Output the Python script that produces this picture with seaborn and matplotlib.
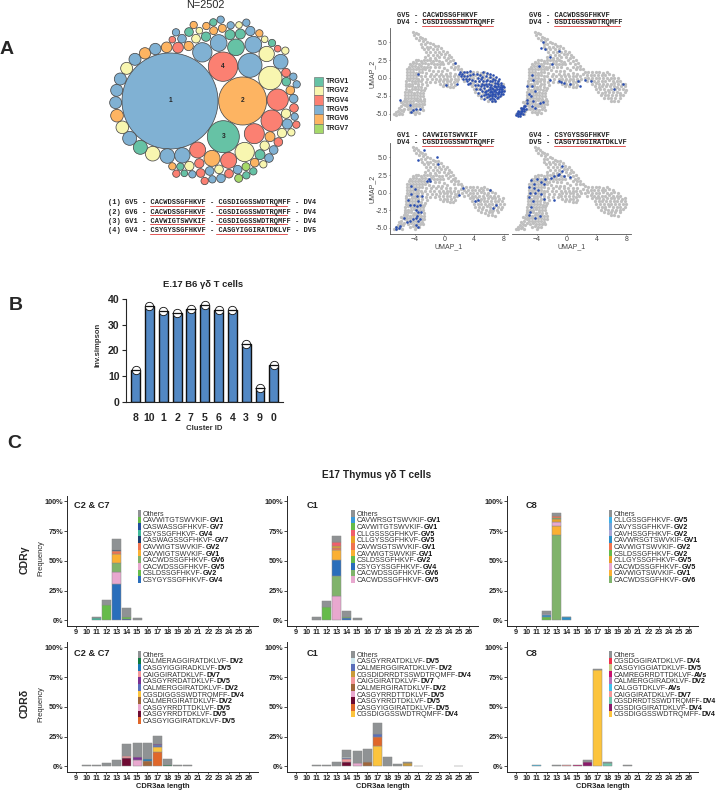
import pandas as pd
import matplotlib
matplotlib.use('Agg')
import matplotlib.pyplot as plt
from matplotlib.lines import Line2D
from matplotlib.patches import Circle, Rectangle
import seaborn as sns

sns.set_style('ticks')
plt.rcParams['font.family'] = ['Liberation Sans', 'DejaVu Sans']

# ---- panel A: clone bubbles
bubble_x = [510, 728, 670, 669, 750, 811, 833, 815, 763, 734, 686, 636, 593, 547, 502, 458, 421, 389, 367, 351,
            347, 350, 361, 380, 405, 435, 466, 500, 534, 566, 607, 656, 708, 760, 800, 842, 858, 859, 871, 880,
            890, 881, 882, 858, 884, 862, 889, 874, 846, 810, 835, 794, 821, 780, 807, 790, 764, 738, 760, 713,
            739, 716, 687, 657, 629, 663, 637, 614, 602, 598, 568, 541, 517, 553, 577, 529, 528, 517, 546, 567,
            581, 598, 618, 588, 619, 641, 640, 662, 667, 692, 690, 721, 717, 739, 751, 778, 794, 816, 833, 856]
bubble_y = [303, 303, 410, 200, 196, 234, 299, 362, 401, 456, 481, 475, 450, 466, 468, 461, 442, 415, 382, 347,
            308, 271, 237, 205, 178, 160, 147, 142, 143, 138, 157, 129, 142, 134, 162, 185, 218, 245, 271, 230,
            253, 296, 324, 341, 350, 372, 374, 397, 399, 410, 426, 437, 450, 464, 474, 493, 488, 500, 514, 509,
            526, 535, 521, 508, 513, 535, 538, 543, 519, 490, 498, 500, 499, 520, 523, 521, 97, 119, 116, 96,
            75, 92, 110, 116, 78, 92, 67, 59, 85, 76, 104, 102, 75, 68, 93, 100, 118, 129, 146, 152]
bubble_r = [144, 72, 48, 44, 36, 35, 32, 32, 30, 29, 24, 24, 24, 23, 22, 22, 21, 21, 19, 19,
            18, 18, 18, 18, 18, 17, 17, 16, 16, 14, 29, 25, 25, 25, 23, 22, 13, 13, 13, 11,
            11, 13, 13, 14, 11, 15, 11, 11, 14, 15, 13, 14, 13, 15, 13, 11, 13, 12, 11, 13,
            11, 12, 13, 13, 13, 13, 11, 11, 13, 14, 14, 11, 11, 10, 11, 11, 11, 10, 13, 13,
            11, 10, 14, 13, 11, 12, 11, 11, 12, 11, 15, 15, 10, 11, 14, 11, 10, 11, 10, 11]
bubble_gene = ['V5', 'V6', 'V1', 'V4', 'V5', 'V2', 'V4', 'V4', 'V4', 'V2', 'V4', 'V6', 'V4', 'V5', 'V5', 'V2', 'V1', 'V5', 'V2', 'V6',
               'V5', 'V5', 'V5', 'V2', 'V5', 'V6', 'V5', 'V6', 'V4', 'V6', 'V5', 'V5', 'V1', 'V5', 'V2', 'V5', 'V4', 'V1', 'V6', 'V5',
               'V5', 'V5', 'V4', 'V2', 'V5', 'V5', 'V4', 'V2', 'V2', 'V6', 'V4', 'V2', 'V5', 'V1', 'V5', 'V2', 'V6', 'V7', 'V1', 'V5',
               'V1', 'V7', 'V4', 'V2', 'V5', 'V5', 'V5', 'V4', 'V4', 'V4', 'V2', 'V1', 'V6', 'V1', 'V5', 'V4', 'V5', 'V4', 'V5', 'V1',
               'V6', 'V2', 'V1', 'V2', 'V6', 'V6', 'V1', 'V5', 'V6', 'V5', 'V1', 'V1', 'V2', 'V5', 'V5', 'V6', 'V2', 'V1', 'V4', 'V2']
gene_names = ['V1', 'V2', 'V4', 'V5', 'V6', 'V7']
gene_colors = ['#66c2a5', '#f8f6b0', '#fb8072', '#80b1d3', '#fdb462', '#a6d96a']

clone_rows = [('(1)', 'GV5', 'CACWDSSGFHKVF', 'CGSDIGGSSWDTRQMFF', 'DV4'),
              ('(2)', 'GV6', 'CACWDSSGFHKVF', 'CGSDIGGSSWDTRQMFF', 'DV4'),
              ('(3)', 'GV1', 'CAVWIGTSWVKIF', 'CGSDIGGSSWDTRQMFF', 'DV4'),
              ('(4)', 'GV4', 'CSYGYSSGFHKVF', 'CASGYIGGIRATDKLVF', 'DV5')]

# ---- panel A: UMAP cells
umap_gray = [(-4.2, 6.5), (-3.9, 6.3), (-4.1, 6.0), (-3.6, 6.1), (-3.3, 5.8), (-3.8, 5.6), (-3.0, 5.6), (-2.6, 5.5), (-3.4, 5.3), (-2.9, 5.2),
             (-2.3, 5.1), (-3.1, 4.8), (-2.6, 4.8), (-2.0, 4.9), (-1.6, 4.7), (-3.0, 4.4), (-2.4, 4.4), (-1.9, 4.4), (-1.3, 4.5), (-0.9, 4.5),
             (-2.8, 4.0), (-2.2, 4.0), (-1.6, 4.0), (-1.0, 4.1), (-0.5, 4.2), (-2.5, 3.6), (-1.9, 3.6), (-1.3, 3.6), (-0.7, 3.7), (-0.2, 3.8),
             (0.3, 3.6), (-2.2, 3.2), (-1.6, 3.2), (-1.0, 3.2), (-0.4, 3.3), (0.1, 3.3), (0.6, 3.2), (-2.6, 2.9), (-1.9, 2.8), (-1.3, 2.8),
             (-0.7, 2.9), (-0.1, 2.9), (0.5, 2.8), (0.9, 2.9), (0.2, 2.5), (0.8, 2.4), (1.2, 2.5), (0.5, 2.1), (1.1, 2.0), (1.5, 2.1),
             (0.9, 1.6), (1.4, 1.6), (1.8, 1.7), (1.3, 1.2), (1.8, 1.2), (2.2, 1.3), (-4.3, 2.3), (-3.9, 2.45), (-3.5, 2.5), (-3.1, 2.4),
             (-2.7, 2.5), (-2.3, 2.45), (-1.9, 2.5), (-1.5, 2.4), (-1.1, 2.45), (-0.7, 2.4), (-0.3, 2.3), (-4.6, 2.0), (-4.2, 2.05), (-3.8, 2.1),
             (-3.4, 2.0), (-3.0, 2.1), (-2.6, 2.05), (-2.2, 2.0), (-1.8, 2.1), (-1.4, 2.0), (-1.0, 2.0), (-0.6, 1.9), (-0.2, 1.9), (-4.8, 1.6),
             (-4.4, 1.65), (-4.0, 1.7), (-3.6, 1.6), (-3.2, 1.7), (-2.8, 1.6), (-2.4, 1.55), (-1.9, 1.6), (-1.3, 1.5), (-0.7, 1.5), (0.0, 1.4),
             (-5.0, 1.2), (-4.6, 1.25), (-4.2, 1.2), (-3.8, 1.3), (-3.4, 1.2), (-3.0, 1.25), (-2.6, 1.2), (-2.1, 1.1), (-1.5, 1.0), (-0.9, 1.0),
             (-0.3, 1.0), (0.4, 1.1), (-5.0, 0.8), (-4.6, 0.85), (-4.2, 0.8), (-3.8, 0.75), (-3.4, 0.8), (-3.0, 0.85), (-2.5, 0.7), (-1.8, 0.6),
             (-1.1, 0.6), (-0.4, 0.6), (0.2, 0.6), (0.8, 0.7), (1.4, 0.6), (-5.1, 0.4), (-4.7, 0.35), (-4.3, 0.4), (-3.9, 0.45), (-3.5, 0.4),
             (-3.1, 0.3), (-2.6, 0.3), (-2.0, 0.2), (-1.4, 0.2), (-0.7, 0.2), (-0.2, 0.25), (0.3, 0.3), (0.8, 0.3), (1.3, 0.2), (1.8, 0.3),
             (-5.1, 0.0), (-4.7, 0.05), (-4.3, 0.0), (-3.9, -0.05), (-3.5, -0.1), (-3.0, -0.1), (-2.4, -0.2), (-1.7, -0.2), (-1.1, -0.2), (-0.6, -0.1),
             (-0.1, -0.1), (0.4, -0.1), (0.9, -0.1), (1.4, -0.2), (1.9, -0.1), (-5.2, -0.4), (-4.8, -0.35), (-4.4, -0.4), (-4.0, -0.45), (-3.6, -0.5),
             (-3.1, -0.5), (-2.5, -0.6), (-1.9, -0.6), (-1.2, -0.6), (-0.7, -0.5), (-0.2, -0.5), (0.3, -0.5), (0.8, -0.5), (1.3, -0.6), (1.7, -0.5),
             (-5.2, -0.8), (-4.8, -0.85), (-4.4, -0.8), (-4.0, -0.75), (-3.5, -0.9), (-3.0, -0.9), (-2.4, -1.0), (-0.6, -0.9), (-0.1, -0.9), (0.4, -0.9),
             (0.9, -0.9), (1.4, -1.0), (-5.2, -1.2), (-4.8, -1.15), (-4.4, -1.2), (-4.0, -1.25), (-3.6, -1.2), (-3.1, -1.3), (-2.6, -1.4), (-0.2, -1.2),
             (0.3, -1.2), (0.8, -1.3), (1.2, -1.3), (-5.2, -1.6), (-4.8, -1.65), (-4.4, -1.6), (-4.0, -1.55), (-3.6, -1.6), (-3.2, -1.7), (-2.8, -1.7),
             (-5.3, -2.0), (-4.9, -1.95), (-4.5, -2.0), (-4.1, -2.05), (-3.7, -2.0), (-3.3, -2.1), (-2.9, -2.1), (-5.3, -2.4), (-4.9, -2.45), (-4.5, -2.4),
             (-4.1, -2.35), (-3.7, -2.4), (-3.3, -2.5), (-2.9, -2.5), (-5.3, -2.8), (-4.9, -2.75), (-4.5, -2.8), (-4.1, -2.85), (-3.7, -2.8), (-3.3, -2.9),
             (-2.8, -2.9), (-5.1, -3.2), (-4.7, -3.25), (-4.3, -3.2), (-3.9, -3.15), (-3.5, -3.2), (-3.1, -3.3), (-2.7, -3.3), (-5.0, -3.6), (-4.6, -3.55),
             (-4.2, -3.6), (-3.8, -3.65), (-3.4, -3.6), (-3.0, -3.7), (-2.7, -3.7), (-5.0, -4.0), (-4.6, -4.05), (-4.2, -4.0), (-3.8, -3.95), (-3.4, -4.0),
             (-3.0, -4.1), (-4.9, -4.4), (-4.5, -4.35), (-4.1, -4.4), (-3.7, -4.45), (-3.3, -4.4), (-2.9, -4.5), (-4.6, -4.8), (-4.2, -4.75), (-3.8, -4.8),
             (-3.4, -4.9), (-4.0, -5.1), (-6.8, -5.1), (-6.5, -5.2), (-6.2, -5.0), (-6.6, -4.8), (-6.0, -4.9), (-5.7, -5.1), (-6.3, -4.6), (-5.9, -4.5),
             (-6.1, -4.2), (-5.6, -4.6), (-5.8, -4.0), (-5.4, -4.3), (-5.6, -3.6), (-5.3, -3.8), (-5.5, -3.2), (-5.2, -3.4), (-5.9, -3.4), (-5.3, -2.9),
             (2.4, 0.9), (2.9, 0.8), (3.4, 0.85), (3.9, 0.8), (4.4, 0.8), (4.9, 0.7), (5.4, 0.8), (2.2, 0.5), (2.7, 0.4), (3.2, 0.45),
             (3.7, 0.4), (4.2, 0.35), (4.7, 0.4), (5.2, 0.4), (5.7, 0.5), (6.2, 0.4), (2.4, 0.0), (2.9, 0.05), (3.4, 0.0), (3.9, -0.05),
             (4.4, 0.0), (4.9, 0.05), (5.4, 0.0), (5.9, 0.0), (6.4, 0.05), (6.9, 0.0), (2.7, -0.4), (3.2, -0.35), (3.7, -0.4), (4.2, -0.45),
             (4.7, -0.4), (5.2, -0.4), (5.7, -0.35), (6.2, -0.4), (6.7, -0.45), (7.2, -0.4), (3.4, -0.8), (3.9, -0.75), (4.4, -0.8), (4.9, -0.85),
             (5.4, -0.8), (5.9, -0.8), (6.4, -0.75), (6.9, -0.8), (7.4, -0.85), (7.9, -0.8), (3.8, -1.2), (4.3, -1.25), (4.8, -1.2), (5.3, -1.15),
             (5.8, -1.2), (6.3, -1.2), (6.8, -1.25), (7.3, -1.2), (7.8, -1.15), (4.0, -1.6), (4.5, -1.55), (5.0, -1.6), (5.5, -1.65), (6.0, -1.6),
             (6.5, -1.6), (7.0, -1.55), (7.5, -1.6), (8.0, -1.65), (4.2, -2.0), (4.7, -2.05), (5.2, -2.0), (5.7, -1.95), (6.2, -2.0), (6.7, -2.0),
             (7.2, -2.05), (7.8, -2.0), (4.6, -2.4), (5.1, -2.35), (5.6, -2.4), (6.1, -2.45), (6.6, -2.4), (7.1, -2.4), (7.6, -2.35), (5.0, -2.8),
             (5.5, -2.85), (6.0, -2.8), (6.5, -2.75), (7.2, -2.8), (5.9, -3.2), (6.4, -3.2), (6.9, -3.25)]

umap_blue_1 = [(2.1, 0.9), (2.4, 0.6), (2.0, 0.5), (2.6, 0.9), (3.0, 0.9), (3.4, 1.0), (2.3, 0.2), (2.7, 0.2), (3.1, 0.3), (3.5, 0.4),
               (2.5, -0.2), (2.9, -0.1), (3.3, -0.2), (3.7, -0.3), (3.0, -0.5), (3.5, -0.7), (3.9, 0.5), (3.2, -0.9), (4.4, 0.6), (4.8, 0.4),
               (5.2, 0.8), (5.7, 0.7), (4.6, 0.0), (5.1, 0.1), (5.6, 0.2), (6.1, 0.6), (4.2, -0.4), (4.7, -0.5), (5.2, -0.4), (5.7, -0.3),
               (6.2, 0.1), (6.6, 0.4), (4.1, -1.0), (4.6, -1.0), (5.1, -0.9), (5.6, -0.8), (6.1, -0.5), (6.6, -0.2), (7.0, 0.1), (4.3, -1.6),
               (4.8, -1.5), (5.3, -1.4), (5.8, -1.2), (6.3, -1.0), (6.8, -0.7), (7.3, -0.4), (4.6, -2.1), (5.1, -1.9), (5.6, -1.8), (6.1, -1.5),
               (6.5, -1.4), (6.9, -1.1), (7.3, -0.9), (7.7, -0.7), (4.9, -2.5), (5.4, -2.4), (5.9, -2.2), (6.3, -1.9), (6.7, -1.8), (7.1, -1.5),
               (7.5, -1.3), (7.9, -1.1), (5.3, -2.9), (5.8, -2.7), (6.2, -2.4), (6.6, -2.3), (7.0, -2.0), (7.4, -1.8), (7.8, -1.6), (8.0, -1.3),
               (6.1, -3.0), (6.5, -2.8), (6.9, -2.5), (7.3, -2.3), (7.7, -2.0), (8.0, -1.8), (6.4, -3.3), (6.9, -3.2), (7.1, -2.8), (7.5, -2.6),
               (7.9, -2.3), (6.7, -1.2), (6.2, -1.3), (7.2, -1.2), (7.6, -1.6), (6.9, -1.7), (6.4, -2.2), (7.2, -2.1), (5.9, -1.7), (6.8, -2.6),
               (7.6, -2.2), (5.6, -2.3), (-3.6, 0.6), (-6.0, -3.1), (-4.7, -3.8), (-4.3, -4.5), (-3.9, -4.4), (-3.3, -4.3), (-4.5, -4.8), (0.2, -1.0),
               (1.7, -0.8), (1.5, 2.1), (6.0, -0.9), (6.4, -0.5), (6.9, -0.3), (7.4, -0.1), (7.1, -0.7), (7.6, -1.0), (6.6, -1.6), (7.0, -1.3),
               (7.4, -1.5), (7.8, -1.3), (6.1, -2.0), (6.5, -2.0), (6.9, -2.2), (7.4, -2.0), (7.8, -1.9), (6.0, -2.5), (6.4, -2.6), (7.3, -2.7),
               (6.7, -3.0), (5.5, -2.0), (5.3, -1.0), (4.9, -1.2), (5.6, -0.4), (4.9, -0.2)]
umap_blue_2 = [(-6.8, -5.2), (-6.7, -4.9), (-6.5, -5.1), (-6.4, -4.8), (-6.3, -5.0), (-6.2, -4.6), (-6.1, -4.9), (-6.0, -4.4), (-6.0, -4.7), (-5.9, -4.2),
               (-5.8, -4.6), (-5.8, -4.0), (-5.7, -4.3), (-5.6, -3.9), (-5.5, -4.4), (-5.9, -5.0), (-6.5, -4.6), (-6.2, -4.2), (-5.4, -3.5), (-5.4, -3.1),
               (-6.6, -5.3), (-6.3, -5.3), (-3.2, 5.0), (-3.4, 4.2), (-2.9, 4.0), (-1.0, 3.8), (-2.2, 3.0), (-3.7, 1.7), (-2.0, 1.9), (-4.7, 0.4),
               (-4.5, -0.3), (-4.7, -1.2), (-5.3, -1.2), (-4.2, -1.8), (-4.8, -2.5), (-5.1, -2.2), (-2.3, -0.3), (-1.0, -0.5), (-0.8, -0.6), (-0.3, -0.7),
               (0.4, -0.8), (1.5, -0.5), (1.8, -1.2), (2.5, -0.3), (3.3, -0.4), (-4.5, -3.2), (-3.6, -3.5), (-4.7, -3.9), (-4.2, -4.2), (-3.2, -3.4),
               (6.4, -1.6), (7.5, -0.8)]
umap_blue_3 = [(-2.7, 6.1), (-3.5, 4.6), (-1.0, 5.0), (-0.9, 4.0), (-2.1, 2.0), (-1.9, 1.6), (-2.3, 1.7), (2.5, 0.6), (2.0, -0.3), (4.1, -1.2),
               (4.5, -1.0), (6.2, 0.4), (6.6, -2.2), (7.0, -1.8), (-4.5, 0.9), (-4.0, 0.5), (-4.5, -0.2), (-3.7, -0.5), (-3.0, -0.5), (-4.9, -1.0),
               (-3.6, -1.2), (-4.7, -1.8), (-4.1, -1.8), (-3.7, -1.9), (-3.3, -1.7), (-3.9, -2.4), (-3.6, -2.7), (-3.1, -2.8), (-3.7, -3.3), (-3.9, -3.6),
               (-4.3, -3.7), (-4.6, -4.0), (-5.0, -4.1), (-3.6, -4.0), (-3.3, -3.8), (-3.9, -4.6), (-3.6, -4.9), (-5.5, -3.6), (-6.0, -4.7), (-6.2, -5.0),
               (-6.5, -5.1), (-6.6, -4.8)]
umap_blue_4 = [(-0.6, 3.8), (-0.6, 3.1), (-1.0, 2.6), (-1.2, 2.5), (-1.7, 2.4), (-2.1, 2.1), (-0.3, 2.4), (0.4, 2.2), (-4.0, 2.0), (-4.8, 1.8),
               (-3.4, 1.5), (-3.0, 1.3), (-2.9, 2.0), (-4.4, 1.2), (-5.0, 0.8), (-4.4, 0.6), (-3.8, 0.4), (-4.9, 0.0), (-4.2, 0.0), (-3.5, -0.2),
               (-5.0, -0.6), (-4.5, -1.2), (-3.0, -0.9), (-4.8, -2.0), (-4.9, -2.7), (-5.0, -3.2), (-4.3, -3.6), (-3.6, -3.3), (-1.7, -1.0)]
umap_titles = [('GV5', 'CACWDSSGFHKVF', 'DV4', 'CGSDIGGSSWDTRQMFF'),
               ('GV6', 'CACWDSSGFHKVF', 'DV4', 'GSDIGGSSWDTRQMFF'),
               ('GV1', 'CAVWIGTSWVKIF', 'DV4', 'CGSDIGGSSWDTRQMFF'),
               ('GV4', 'CSYGYSSGFHKVF', 'DV5', 'CASGYIGGIRATDKLVF')]

# ---- panel B
cluster_ids = ['8', '10', '1', '2', '7', '5', '6', '4', '3', '9', '0']
inv_simpson = [12.5, 37.0, 35.2, 34.3, 36.0, 37.5, 35.5, 35.5, 22.7, 5.5, 14.3]

# ---- panel C: legend rows top to bottom, bars as (length, legend row, value)
gray = '#8f9294'
g_c27_names = ['Others', 'CAVWITGTSWVKIF-GV1', 'CASWASSGFHKVF-GV7', 'CSYSSGFHKVF-GV4', 'CASWAGSSGFHKVF-GV7', 'CAVWIGTSWVKIF-GV2',
               'CAVWIGTSWVKIF-GV1', 'CACWDSSGFHKVF-GV6', 'CACWDSSGFHKVF-GV5', 'CSLDSSGFHKVF-GV2', 'CSYGYSSGFHKVF-GV4']
g_c27_colors = [gray, '#66bb4a', '#1f4e9c', '#3eb89a', '#1a3f70', '#f0744f', '#fbb033', '#80b36b', '#e8a8cf', '#66bb4a', '#2a6ebb']
g_c27_bars = [(11, 3, 1.5), (11, 0, 1), (12, 9, 12.5), (12, 0, 4.5), (13, 10, 30.5), (13, 8, 10), (13, 7, 8), (13, 6, 7),
              (13, 5, 2.5), (13, 4, 1.5), (13, 0, 8.5), (14, 2, 1), (14, 1, 1.5), (14, 0, 7.5), (15, 0, 1.5)]

g_c1_names = ['Others', 'CAVWRSGTSWVKIF-GV1', 'CAVWITGTSWVKIF-GV1', 'CLLGSSSGFHKVF-GV5', 'CLLGYSSGFHKVF-GV5', 'CAVWSGTSWVKIF-GV1',
              'CAVWIGTSWVKIF-GV1', 'CSLDSSGFHKVF-GV2', 'CSYGYSSGFHKVF-GV4', 'CACWDSSGFHKVF-GV6', 'CACWDSSGFHKVF-GV5']
g_c1_colors = [gray, '#3a9ad9', '#66bb4a', '#f15f6a', '#e8a127', '#f0744f', '#fbb033', '#66bb4a', '#2a6ebb', '#80b36b', '#e8a8cf']
g_c1_bars = [(11, 0, 3), (12, 7, 11), (12, 0, 5), (13, 10, 20), (13, 9, 17.5), (13, 8, 13.5), (13, 6, 8), (13, 5, 1.5),
             (13, 4, 2), (13, 3, 3), (13, 1, 0.5), (13, 0, 5), (14, 7, 1.5), (14, 8, 1.5), (14, 0, 5), (15, 0, 2)]

g_c8_names = ['Others', 'CLLGSSGFHKVF-GV5', 'CAVYSSGFHKVF-GV2', 'CAVHSSGFHKVF-GV2', 'CAVWRSGTSWVKIF-GV1', 'CAVWIGTSWVKIF-GV2',
              'CSLDSSGFHKVF-GV2', 'CLLGYSSGFHKVF-GV5', 'CACWDSSGFHKVF-GV5', 'CAVWIGTSWVKIF-GV1', 'CACWDSSGFHKVF-GV6']
g_c8_colors = [gray, '#3fb1e8', '#7aa2d6', '#a9a6d6', '#2b8fc7', '#f0744f', '#66bb4a', '#e8a127', '#e8a8cf', '#fbb033', '#80b36b']
g_c8_bars = [(12, 6, 2.5), (12, 4, 1.5), (12, 3, 1.5), (12, 0, 2), (13, 10, 72), (13, 9, 7), (13, 8, 3.5), (13, 7, 3),
             (13, 6, 0.5), (13, 5, 1.5), (13, 4, 0.5), (13, 0, 2), (14, 4, 2.5), (14, 0, 0.5)]

d_c27_names = ['Others', 'CALMERAGGIRATDKLVF-DV2', 'CASGYIGGIRADKLVF-DV5', 'CAIGGIRATDKLVF-DV7', 'CASGYRRDATDKLVF-DV5', 'CALMERGGIRATDKLVF-DV2',
               'CGSDIGGSSWDTRQMFF-DV4', 'CALMERGIRATDKLVF-DV2', 'CASGYRRDTTDKLVF-DV5', 'CASGYRRDTDKLVF-DV5', 'CASGYIGGIRATDKLVF-DV5']
d_c27_colors = [gray, '#0d7a3e', '#1878b8', '#f4979a', '#7b2f93', '#5a6fba', '#fcc43d', '#a0663a', '#e9a8cf', '#6e0a32', '#e0672a']
d_c27_bars = [(10, 0, 1), (11, 0, 1), (12, 0, 3), (13, 0, 5.5), (14, 9, 7), (14, 3, 1.5), (14, 0, 10), (15, 8, 5.5), (15, 4, 2.5),
              (15, 0, 12), (16, 7, 4.5), (16, 2, 2), (16, 0, 13), (17, 10, 12), (17, 6, 4), (17, 5, 2), (17, 4, 1), (17, 0, 6.5),
              (18, 1, 1), (18, 0, 5), (19, 0, 1), (20, 0, 1)]

d_c1_names = ['Others', 'CASGYRRATDKLVF-DV5', 'CALMERGGIRATDKLVF-DV2', 'CGSDIDRRDTSSWDTRQMFF-DV4', 'CAIGGIRATDKLVF-DV7', 'CALMERGIRATDKLVF-DV2',
              'CASGYRRDTTDKLVF-DV5', 'CASGYRRDTDKLVF-DV5', 'CASGYIGGIRATDKLVF-DV5', 'CGSDIGGSSWDTRQMFF-DV4']
d_c1_colors = [gray, '#cfe8ee', '#5a6fba', '#c99a3a', '#f4979a', '#a0663a', '#e9a8cf', '#6e0a32', '#e0672a', '#fcc43d']
d_c1_bars = [(11, 0, 1), (12, 0, 1), (13, 0, 3.5), (14, 7, 4), (14, 4, 2.5), (14, 1, 1), (14, 2, 0.5), (14, 0, 5.5), (15, 6, 3),
             (15, 0, 10), (16, 5, 3.5), (16, 0, 11), (17, 9, 17), (17, 8, 8), (17, 2, 2), (17, 0, 9.5), (18, 0, 8), (19, 0, 2),
             (20, 3, 3), (20, 0, 0.5), (21, 0, 0.4), (25, 1, 0.3)]

d_c8_names = ['Others', 'CGSDGGIRATDKLVF-DV4', 'CASGYIGGIATDKLVF-DV5', 'CAMREGRRDTTDKLVF-AVs', 'CALMERGGIRADKLVF-DV2', 'CALGGTDKLVF-AVs',
              'CAIGGIRATDKLVF-DV7', 'CGSDRRDTSSWDTRQMFF-DV4', 'CGSDIGGIRATDKLVF-DV4', 'CGSDIGGSSWDTRQMFF-DV4']
d_c8_colors = [gray, '#f0304a', '#c5c98a', '#c8106e', '#b570b5', '#3ec0ec', '#f4979a', '#6fc5ac', '#8b1a6b', '#fcc43d']
d_c8_bars = [(11, 5, 1.2), (13, 0, 1.2), (14, 6, 1.2), (15, 3, 1.2), (16, 8, 3.5), (16, 0, 1.5), (17, 9, 80.5), (17, 0, 1.5),
             (18, 7, 2.5), (18, 0, 1), (20, 0, 1.2)]

fig = plt.figure(figsize=(7.2, 7.9), dpi=100)
W, H = 720.0, 790.0


def px_ax(l, t, r, b):
    return fig.add_axes([l / W, 1 - b / H, (r - l) / W, (b - t) / H])


def put(x, y, s, **kw):
    kw.setdefault('ha', 'left')
    kw.setdefault('va', 'center')
    return fig.text(x / W, 1 - y / H, s, **kw)


def rule(x0, x1, y, color='#e25555', lw=0.7):
    fig.add_artist(Line2D([x0 / W, x1 / W], [1 - y / H, 1 - y / H], color=color, lw=lw, transform=fig.transFigure))


def box(x0, y0, x1, y1, color, edge='none', lw=0):
    fig.add_artist(Rectangle((x0 / W, 1 - y1 / H), (x1 - x0) / W, (y1 - y0) / H, facecolor=color, edgecolor=edge,
                             lw=lw, transform=fig.transFigure))


# letters
put(7, 50, 'A', fontsize=14, fontweight='bold', ha='center')
put(16, 305, 'B', fontsize=14, fontweight='bold', ha='center')
put(14, 443, 'C', fontsize=14, fontweight='bold', ha='center')

# bubbles
put(205, 4.8, 'N=2502', fontsize=7.8, ha='center')
ax = px_ax(100, 10, 310, 190)
ax.set_xlim(300, 930)
ax.set_ylim(570, 30)
ax.axis('off')
color_of = dict(zip(gene_names, gene_colors))
for x, y, r, g in zip(bubble_x, bubble_y, bubble_r, bubble_gene):
    ax.add_patch(Circle((x, y), r, facecolor=color_of[g], edgecolor='#4a4a4a', lw=0.55))
for i in range(4):
    ax.text(bubble_x[i], bubble_y[i], str(i + 1), fontsize=4.8, fontweight='bold', ha='center', va='center')

for i, g in enumerate(gene_names):
    yc = 81.3 + i * 9.4
    box(313.5, yc - 4.7, 322.5, yc + 4.7, gene_colors[i], edge='#666666', lw=0.4)
    put(326, yc, 'TRG' + g, fontsize=5, fontweight='bold', color='#222222')

# sequence table
pitch = 4.167
for i, (num, gv, seq1, seq2, dv) in enumerate(clone_rows):
    yc = 202.7 + i * 9.33
    put(108, yc, f'{num} {gv} - {seq1} - {seq2} - {dv}', fontsize=5, family='Liberation Mono', fontweight='bold', color='#222222')
    rule(108 + 10 * pitch, 108 + (10 + len(seq1)) * pitch, yc + 3)
    rule(108 + 26 * pitch, 108 + (26 + len(seq2)) * pitch, yc + 3)

# umap panels
gray_df = pd.DataFrame(umap_gray, columns=['UMAP_1', 'UMAP_2'])
blue_sets = [umap_blue_1, umap_blue_2, umap_blue_3, umap_blue_4]
umap_rects = [(390, 28, 508, 120), (512, 28, 630.7, 120), (390, 143.3, 508, 234.3), (512, 143.3, 630.7, 234.3)]
umap_text_at = [(397, 15.7), (528.7, 15.7), (397, 135.7), (528.7, 135.7)]
for i, rect in enumerate(umap_rects):
    ax = px_ax(*rect)
    sns.scatterplot(data=gray_df, x='UMAP_1', y='UMAP_2', s=5.5, color='#bfbfbf', linewidth=0, ax=ax)
    sns.scatterplot(data=pd.DataFrame(blue_sets[i], columns=['UMAP_1', 'UMAP_2']), x='UMAP_1', y='UMAP_2', s=3.5,
                    color='#2b4fb0', linewidth=0, ax=ax)
    ax.set_xlim(-7.35, 8.6)
    ax.set_ylim(-5.9, 7.0)
    ax.set_xticks([-4, 0, 4, 8])
    ax.set_yticks([-5, -2.5, 0, 2.5, 5])
    ax.set_yticklabels(['-5.0', '-2.5', '0.0', '2.5', '5.0'])
    ax.tick_params(labelsize=5, length=1, width=0.5, pad=0.5, color='#555555', labelcolor='#444444')
    ax.tick_params(axis='x', pad=0)
    sns.despine(ax=ax)
    for s in ['left', 'bottom']:
        ax.spines[s].set_linewidth(0.6)
        ax.spines[s].set_color('#555555')
    ax.set_xlabel('')
    ax.set_ylabel('')
    if i < 2:
        ax.spines['bottom'].set_visible(False)
        ax.tick_params(bottom=False, labelbottom=False)
    else:
        ax.set_xlabel('UMAP_1', fontsize=5, color='#444444', va='center')
        ax.xaxis.set_label_coords(0.5, -0.135)
    if i % 2 == 1:
        ax.spines['left'].set_visible(False)
        ax.tick_params(left=False, labelleft=False)
    else:
        ax.set_ylabel('UMAP_2', fontsize=5, color='#444444')
        ax.yaxis.set_label_coords(-0.12, 0.5)
    gv, seq1, dv, seq2 = umap_titles[i]
    tx, ty = umap_text_at[i]
    put(tx, ty, f'{gv} - {seq1}', fontsize=5, family='Liberation Mono', fontweight='bold', color='#222222')
    put(tx, ty + 7, f'{dv} - {seq2}', fontsize=5, family='Liberation Mono', fontweight='bold', color='#222222')
    rule(tx + 6 * pitch, tx + (6 + len(seq1)) * pitch, ty + 3)
    rule(tx + 6 * pitch, tx + (6 + len(seq2)) * pitch, ty + 10)

# panel B
put(203, 285, 'E.17 B6 γδ T cells', fontsize=6.8, fontweight='bold', ha='center', color='#222222')
ax = px_ax(126, 298.7, 283, 402.3)
sns.barplot(x=cluster_ids, y=inv_simpson, order=cluster_ids, color='#5288c4', saturation=1, width=0.64,
            edgecolor='#111111', linewidth=1.0, ax=ax)
sns.stripplot(x=cluster_ids, y=inv_simpson, order=cluster_ids, jitter=False, size=6, color='white',
              edgecolor='#111111', linewidth=0.6, ax=ax, clip_on=False, zorder=3)
ax.hlines(inv_simpson, [p - 0.34 for p in range(11)], [p + 0.34 for p in range(11)], color='#111111', lw=0.9, zorder=4)
ax.set_xlim(-0.7, 10.67)
ax.set_ylim(0, 40)
ax.set_yticks([0, 10, 20, 30, 40])
ax.tick_params(labelsize=7.6, length=3, width=0.8, pad=1.5)
for lab in ax.get_xticklabels() + ax.get_yticklabels():
    lab.set_fontweight('bold')
ax.tick_params(axis='x', bottom=False, pad=4.5)
sns.despine(ax=ax)
for s in ['left', 'bottom']:
    ax.spines[s].set_linewidth(0.8)
ax.set_ylabel('Inv.simpson', fontsize=5.6, fontweight='bold', color='#333333')
ax.yaxis.set_label_coords(-0.153, 0.55)
ax.set_xlabel('Cluster ID', fontsize=5.6, fontweight='bold', color='#333333', labelpad=2)

# panel C
put(377, 475, 'E17 Thymus γδ T cells', fontsize=7.3, fontweight='bold', ha='center', color='#222222')
put(25, 560, 'CDRγ', fontsize=7.6, fontweight='bold', rotation=90, ha='center')
put(25, 703, 'CDRδ', fontsize=7.6, fontweight='bold', rotation=90, ha='center')

panels = [('C2 & C7', g_c27_names, g_c27_colors, g_c27_bars), ('C1', g_c1_names, g_c1_colors, g_c1_bars),
          ('C8', g_c8_names, g_c8_colors, g_c8_bars), ('C2 & C7', d_c27_names, d_c27_colors, d_c27_bars),
          ('C1', d_c1_names, d_c1_colors, d_c1_bars), ('C8', d_c8_names, d_c8_colors, d_c8_bars)]
col_left = [67.3, 287.3, 507.3]
col_title = [74.3, 306.7, 526]
col_swatch = [137.7, 351.3, 608.7]
row_box = [(496, 626), (641.7, 772.3)]
row_legend = [513.3, 654.3]
renderer = fig.canvas.get_renderer()
for k, (title, names, colors, bars) in enumerate(panels):
    row, col = k // 3, k % 3
    top, bottom = row_box[row]
    ax = px_ax(col_left[col], top, col_left[col] + 190.4, bottom)
    df = pd.DataFrame(bars, columns=['length', 'row', 'value'])
    df['clone'] = [names[r] for r in df['row']]
    sns.histplot(data=df, x='length', weights='value', hue='clone', hue_order=names, multiple='stack', discrete=True,
                 shrink=0.88, palette=dict(zip(names, colors)), alpha=1, legend=False, ax=ax)
    for p in list(ax.patches):
        if p.get_height() == 0:
            p.remove()
        else:
            p.set_edgecolor('#8a8a8a')
            p.set_linewidth(0.35)
    ax.set_xlim(8.15, 26.85)
    ax.set_ylim(-4.9, 104.6)
    ax.set_xticks(range(9, 27))
    ax.set_yticks([0, 25, 50, 75, 100])
    ax.set_yticklabels(['0%', '25%', '50%', '75%', '100%'])
    ax.tick_params(labelsize=5.3, length=2, width=0.6, pad=1)
    ax.tick_params(axis='x', length=1.5, pad=0.8)
    for lab in ax.get_xticklabels() + ax.get_yticklabels():
        lab.set_fontweight('bold')
    sns.despine(ax=ax)
    for s in ['left', 'bottom']:
        ax.spines[s].set_linewidth(0.7)
    ax.set_ylabel('')
    ax.set_xlabel('')
    if row == 1:
        ax.set_xlabel('CDR3aa length', fontsize=5.4, fontweight='bold', color='#222222', va='center')
        ax.xaxis.set_label_coords(0.5, -0.108)
    if col == 0:
        ax.set_ylabel('Frequency', fontsize=5.4, color='#222222')
        ax.yaxis.set_label_coords(-0.12, 0.52)
    put(col_title[col], top + 9 if row == 0 else top + 11.5, title, fontsize=6.7, fontweight='bold', color='#222222')
    for j, (name, colr) in enumerate(zip(names, colors)):
        yc = row_legend[row] + j * 6.63
        box(col_swatch[col], yc - 3.32, col_swatch[col] + 3.4, yc + 3.32, colr)
        head, tail = (name, '') if '-' not in name else (name.rsplit('-', 1)[0] + '-', name.rsplit('-', 1)[1])
        # the longest clone name in the third column has to stop at the figure edge
        size = 4.85 if col == 2 and len(name) > 21 else 5.1
        t = put(col_swatch[col] + 5, yc, head, fontsize=size, va='center_baseline', color='#333333')
        if tail:
            x1 = t.get_window_extent(renderer).x1
            put(x1, yc, tail, fontsize=size, fontweight='bold', va='center_baseline', color='#111111')

fig.savefig('out.png', dpi=100)
